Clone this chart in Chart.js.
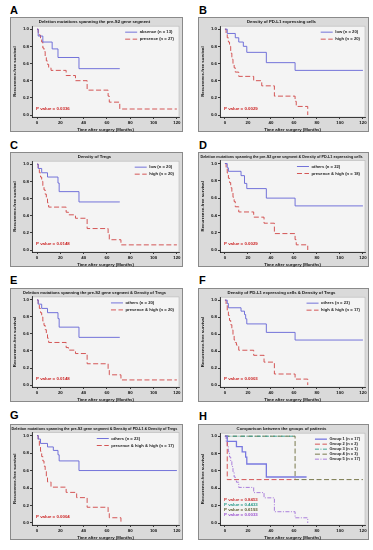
<!DOCTYPE html>
<html><head><meta charset="utf-8">
<script src="https://cdn.jsdelivr.net/npm/chart.js@4.4.1/dist/chart.umd.min.js"></script>
<style>
html,body{margin:0;padding:0;background:#fff;}
body{width:373px;height:550px;position:relative;overflow:hidden;font-family:"Liberation Sans",Arial,sans-serif;}
canvas{position:absolute;}
.lt{position:absolute;font-weight:bold;font-size:11px;line-height:11px;color:#000;}
</style></head><body>
<div class="lt" style="left:10px;top:5px">A</div>
<div class="lt" style="left:199px;top:5px">B</div>
<div class="lt" style="left:10px;top:140px">C</div>
<div class="lt" style="left:199px;top:140px">D</div>
<div class="lt" style="left:10px;top:275px">E</div>
<div class="lt" style="left:199px;top:275px">F</div>
<div class="lt" style="left:10px;top:410px">G</div>
<div class="lt" style="left:199px;top:411px">H</div>
<canvas id="cA" width="173" height="115" style="left:10px;top:17px"></canvas>
<canvas id="cB" width="171" height="115" style="left:198px;top:17px"></canvas>
<canvas id="cC" width="173" height="115" style="left:10px;top:152px"></canvas>
<canvas id="cD" width="171" height="115" style="left:198px;top:152px"></canvas>
<canvas id="cE" width="173" height="114" style="left:10px;top:288px"></canvas>
<canvas id="cF" width="171" height="114" style="left:198px;top:288px"></canvas>
<canvas id="cG" width="173" height="116" style="left:10px;top:424px"></canvas>
<canvas id="cH" width="171" height="116" style="left:198px;top:424px"></canvas>
<script>
// ---------- tick labels ----------
const xTicks = [0, 20, 40, 60, 80, 100, 120];
const yTicks = [0, 0.2, 0.4, 0.6, 0.8, 1.0];
const xTitle = "Time after surgery (Months)";
const yTitle = "Recurrence-free survival";

// ---------- A ----------
const A_title = "Deletion mutations spanning the pre-S2 gene segment";
const A_labels = ["absence (n = 13)", "presence (n = 27)"];
const A_absence_t = [0, 1, 5, 13, 18, 36, 71];
const A_absence_s = [1, 0.92, 0.85, 0.77, 0.67, 0.54, 0.54];
const A_presence_t = [0, 1, 2, 3, 4, 5, 6, 7, 8, 9, 10, 12, 25, 33, 43, 61, 62, 71, 120];
const A_presence_s = [1, 0.96, 0.93, 0.89, 0.85, 0.78, 0.74, 0.67, 0.63, 0.59, 0.55, 0.52, 0.46, 0.40, 0.29, 0.22, 0.15, 0.07, 0.07];
const A_pvals = ["P value = 0.0336"];

// ---------- B ----------
const B_title = "Density of PD-L1 expressing cells";
const B_labels = ["low (n = 20)", "high (n = 20)"];
const B_low_t = [0, 2, 9, 12, 16, 19, 36, 61, 120];
const B_low_s = [1, 0.95, 0.9, 0.85, 0.8, 0.73, 0.61, 0.52, 0.52];
const B_high_t = [0, 1, 2, 3, 4, 5, 6, 7, 8, 9, 12, 25, 32, 43, 61, 62, 72];
const B_high_s = [1, 0.95, 0.9, 0.85, 0.8, 0.72, 0.65, 0.6, 0.55, 0.5, 0.45, 0.4, 0.34, 0.22, 0.16, 0.1, 0.0];
const B_pvals = ["P value = 0.0029"];

// ---------- C ----------
const C_title = "Density of Tregs";
const C_labels = ["low (n = 20)", "high (n = 20)"];
const C_low_t = [0, 1, 4, 9, 18, 19, 36, 71];
const C_low_s = [1, 0.95, 0.9, 0.85, 0.78, 0.68, 0.56, 0.56];
const C_high_t = [0, 1, 2, 3, 4, 5, 6, 7, 8, 9, 10, 25, 27, 33, 43, 61, 62, 72, 120];
const C_high_s = [1, 0.95, 0.9, 0.85, 0.8, 0.75, 0.7, 0.65, 0.6, 0.55, 0.5, 0.44, 0.41, 0.37, 0.25, 0.19, 0.12, 0.06, 0.06];
const C_pvals = ["P value = 0.0148"];

// ---------- D ----------
const D_title = "Deletion mutations spanning the pre-S2 gene segment & Density of PD-L1 expressing cells";
const D_labels = ["others (n = 22)", "presence & high (n = 18)"];
const D_others_t = [0, 2, 3, 14, 17, 19, 36, 61, 120];
const D_others_s = [1, 0.95, 0.91, 0.86, 0.77, 0.71, 0.6, 0.51, 0.51];
const D_ph_t = [0, 1, 2, 3, 4, 5, 6, 7, 8, 9, 12, 25, 34, 43, 61, 62, 72];
const D_ph_s = [1, 0.94, 0.89, 0.83, 0.78, 0.72, 0.67, 0.61, 0.56, 0.5, 0.44, 0.38, 0.31, 0.19, 0.12, 0.06, 0.0];
const D_pvals = ["P value = 0.0029"];

// ---------- E ----------
const E_title = "Deletion mutations spanning the pre-S2 gene segment & Density of Tregs";
const E_labels = ["others (n = 20)", "presence & high (n = 20)"];
const E_others_t = [0, 1, 4, 9, 18, 19, 36, 71];
const E_others_s = [1, 0.95, 0.9, 0.85, 0.78, 0.68, 0.56, 0.56];
const E_ph_t = [0, 1, 2, 3, 4, 5, 6, 7, 8, 9, 10, 25, 27, 33, 43, 61, 62, 72, 120];
const E_ph_s = [1, 0.95, 0.9, 0.85, 0.8, 0.75, 0.7, 0.65, 0.6, 0.55, 0.5, 0.44, 0.41, 0.37, 0.25, 0.19, 0.12, 0.06, 0.06];
const E_pvals = ["P value = 0.0148"];

// ---------- F ----------
const F_title = "Density of PD-L1 expressing cells & Density of Tregs";
const F_labels = ["others (n = 23)", "high & high (n = 17)"];
const F_others_t = [0, 2, 3, 14, 17, 18, 19, 36, 61, 120];
const F_others_s = [1, 0.96, 0.91, 0.87, 0.83, 0.78, 0.72, 0.62, 0.53, 0.53];
const F_hh_t = [0, 1, 2, 3, 4, 5, 6, 7, 8, 9, 10, 12, 25, 34, 43, 61, 72];
const F_hh_s = [1, 0.94, 0.88, 0.82, 0.76, 0.71, 0.65, 0.59, 0.53, 0.5, 0.47, 0.41, 0.35, 0.27, 0.13, 0.07, 0.0];
const F_pvals = ["P value = 0.0003"];

// ---------- G ----------
const G_title = "Deletion mutations spanning the pre-S2 gene segment & Density of PD-L1 & Density of Tregs";
const G_labels = ["others (n = 23)", "presence & high & high (n = 17)"];
const G_others_t = [0, 1, 3, 9, 14, 18, 19, 36, 120];
const G_others_s = [1, 0.96, 0.91, 0.87, 0.83, 0.78, 0.71, 0.6, 0.6];
const G_phh_t = [0, 1, 2, 3, 4, 5, 6, 7, 8, 9, 12, 25, 34, 43, 61, 62, 72];
const G_phh_s = [1, 0.94, 0.88, 0.82, 0.76, 0.71, 0.65, 0.59, 0.53, 0.47, 0.41, 0.35, 0.29, 0.18, 0.12, 0.06, 0.0];
const G_pvals = ["P value = 0.0004"];

// ---------- H ----------
const H_title = "Comparison between the groups of patients";
const H_labels = ["Group 1 (n = 17)", "Group 2 (n = 2)", "Group 3 (n = 1)", "Group 4 (n = 3)", "Group 5 (n = 17)"];
const H_g1_t = [0, 2, 10, 15, 18, 19, 36, 71];
const H_g1_s = [1, 0.94, 0.88, 0.82, 0.76, 0.68, 0.53, 0.53];
const H_g2_t = [0, 2, 61];
const H_g2_s = [1, 0.5, 0.5];
const H_g3_t = [0, 61];
const H_g3_s = [1, 1];
const H_g4_t = [0, 61, 120];
const H_g4_s = [1, 0.5, 0.5];
const H_g5_t = [0, 1, 2, 3, 4, 5, 6, 7, 8, 9, 10, 12, 25, 34, 43, 61, 72];
const H_g5_s = [1, 0.94, 0.88, 0.82, 0.76, 0.71, 0.65, 0.59, 0.53, 0.5, 0.47, 0.41, 0.35, 0.29, 0.13, 0.06, 0.0];
const H_pvals = ["P value = 0.8453", "P value = 0.4433", "P value = 0.6193", "P value = 0.0033"];

// ---------- styles ----------
const FONT = '"Liberation Sans", Arial, sans-serif';
const OUTER = '#dadada';
const INNER = '#f4f4f4';
const BLUE = '#6464d6';
const RED = '#d04444';
const PRED = '#cc2222';
const S_blue = {color: BLUE, dash: [], w: 0.9};
const S_red = {color: RED, dash: [5, 2.5], w: 0.9};

const framePlugin = {
  id: 'frame',
  beforeDraw(c) {
    const {ctx, chartArea: a, width, height} = c;
    ctx.save();
    ctx.fillStyle = OUTER; ctx.fillRect(0, 0, width, height);
    ctx.fillStyle = INNER; ctx.fillRect(a.left, a.top, a.right - a.left, a.bottom - a.top);
    ctx.strokeStyle = '#8a8a8a'; ctx.lineWidth = 1;
    ctx.strokeRect(0.5, 0.5, width - 1, height - 1);
    ctx.strokeStyle = '#b8b8b8'; ctx.lineWidth = 0.6;
    ctx.strokeRect(a.left, a.top, a.right - a.left, a.bottom - a.top);
    ctx.restore();
  },
  afterDatasetsDraw(c, args, o) {
    const {ctx, chartArea: a} = c;
    ctx.save();
    ctx.font = 'bold ' + o.legendSize + 'px ' + FONT;
    ctx.textBaseline = 'middle';
    const sets = c.data.datasets;
    let maxW = 0;
    sets.forEach(d => { maxW = Math.max(maxW, ctx.measureText(d.label).width); });
    const tx = a.right - 5 - maxW;
    const lx2 = tx - 2.5, lx1 = lx2 - 12;
    sets.forEach((d, i) => {
      const y = a.top + 6 + i * o.rowGap;
      ctx.strokeStyle = d.borderColor; ctx.lineWidth = d.borderWidth;
      ctx.setLineDash(d.borderDash || []);
      ctx.beginPath(); ctx.moveTo(lx1, y); ctx.lineTo(lx2, y); ctx.stroke();
      ctx.setLineDash([]);
      ctx.fillStyle = '#222';
      ctx.fillText(d.label, tx, y);
    });
    ctx.font = 'bold ' + o.pSize + 'px ' + FONT;
    const n = o.pvals.length;
    o.pvals.forEach((p, i) => {
      ctx.fillStyle = o.pColors[i];
      ctx.fillText(p, a.left + 4, a.bottom - o.pBottom - (n - 1 - i) * o.pGap);
    });
    ctx.restore();
  }
};

function makeChart(id, title, titleSize, labels, ts, ss, styles, pvals, pColors, extra) {
  const ex = Object.assign({legendSize: 4.2, rowGap: 7, pSize: 4.4, pBottom: 8, pGap: 5}, extra || {});
  const datasets = labels.map((lab, k) => ({
    label: lab,
    data: ts[k].map((t, i) => ({x: t, y: ss[k][i]})),
    borderColor: styles[k].color,
    borderWidth: styles[k].w,
    borderDash: styles[k].dash,
    stepped: true, pointRadius: 0, fill: false, tension: 0
  }));
  const tickFont = {family: FONT, size: 4.4, weight: 'bold'};
  const axTitleFont = {family: FONT, size: 4.3, weight: 'bold'};
  new Chart(document.getElementById(id), {
    type: 'line',
    data: {datasets},
    options: {
      responsive: false, animation: false, devicePixelRatio: 1,
      layout: {padding: {left: 0, right: 4, top: 0, bottom: 0}},
      events: [],
      plugins: {
        legend: {display: false}, tooltip: {enabled: false},
        title: {display: true, text: title, color: '#111',
          font: {family: FONT, size: titleSize, weight: 'bold'}, padding: {top: 2.5, bottom: 1.5}},
        frame: {pvals, pColors, legendSize: ex.legendSize, rowGap: ex.rowGap, pSize: ex.pSize, pBottom: ex.pBottom, pGap: ex.pGap}
      },
      scales: {
        x: {type: 'linear', min: -4.3, max: 121.8,
          afterBuildTicks: s => { s.ticks = xTicks.map(v => ({value: v})); },
          afterFit: s => { s.height = 15; },
          ticks: {font: tickFont, color: '#111', padding: 1, maxRotation: 0, autoSkip: false},
          grid: {drawOnChartArea: false, drawTicks: true, tickLength: 2, color: '#111', lineWidth: 0.8},
          border: {display: true, color: '#111', width: 0.8},
          title: {display: true, text: xTitle, color: '#111', font: axTitleFont, padding: {top: 1, bottom: 0}}
        },
        y: {type: 'linear', min: -0.023, max: 1.035,
          afterBuildTicks: s => { s.ticks = yTicks.map(v => ({value: v})); },
          afterFit: s => { s.width = 22; },
          ticks: {font: tickFont, color: '#111', padding: 1, callback: v => Number(v).toFixed(1)},
          grid: {drawOnChartArea: false, drawTicks: true, tickLength: 2, color: '#111', lineWidth: 0.8},
          border: {display: true, color: '#111', width: 0.8},
          title: {display: true, text: yTitle, color: '#111', font: axTitleFont, padding: {top: 2, bottom: 1}}
        }
      }
    },
    plugins: [framePlugin]
  });
}

makeChart('cA', A_title, 4.3, A_labels, [A_absence_t, A_presence_t], [A_absence_s, A_presence_s], [S_blue, S_red], A_pvals, [PRED]);
makeChart('cB', B_title, 4.3, B_labels, [B_low_t, B_high_t], [B_low_s, B_high_s], [S_blue, S_red], B_pvals, [PRED]);
makeChart('cC', C_title, 4.3, C_labels, [C_low_t, C_high_t], [C_low_s, C_high_s], [S_blue, S_red], C_pvals, [PRED]);
makeChart('cD', D_title, 3.75, D_labels, [D_others_t, D_ph_t], [D_others_s, D_ph_s], [S_blue, S_red], D_pvals, [PRED]);
makeChart('cE', E_title, 4.1, E_labels, [E_others_t, E_ph_t], [E_others_s, E_ph_s], [S_blue, S_red], E_pvals, [PRED]);
makeChart('cF', F_title, 4.3, F_labels, [F_others_t, F_hh_t], [F_others_s, F_hh_s], [S_blue, S_red], F_pvals, [PRED]);
makeChart('cG', G_title, 3.75, G_labels, [G_others_t, G_phh_t], [G_others_s, G_phh_s], [S_blue, S_red], G_pvals, [PRED]);
makeChart('cH', H_title, 4.3, H_labels,
  [H_g1_t, H_g2_t, H_g3_t, H_g4_t, H_g5_t], [H_g1_s, H_g2_s, H_g3_s, H_g4_s, H_g5_s],
  [{color: '#7878e0', dash: [], w: 1.3}, {color: '#d04444', dash: [5, 2.5], w: 0.9},
   {color: '#2e9c8c', dash: [4, 1.5, 1, 1.5], w: 0.9}, {color: '#6b6b3a', dash: [5, 2.5], w: 0.9},
   {color: '#a070d8', dash: [4, 1.5, 1, 1.5], w: 0.9}],
  H_pvals, ['#cc3333', '#2a9a8a', '#5a5a2a', '#9a50d0'], {rowGap: 5, legendSize: 4.0, pBottom: 10, pGap: 5});
</script>
</body></html>
